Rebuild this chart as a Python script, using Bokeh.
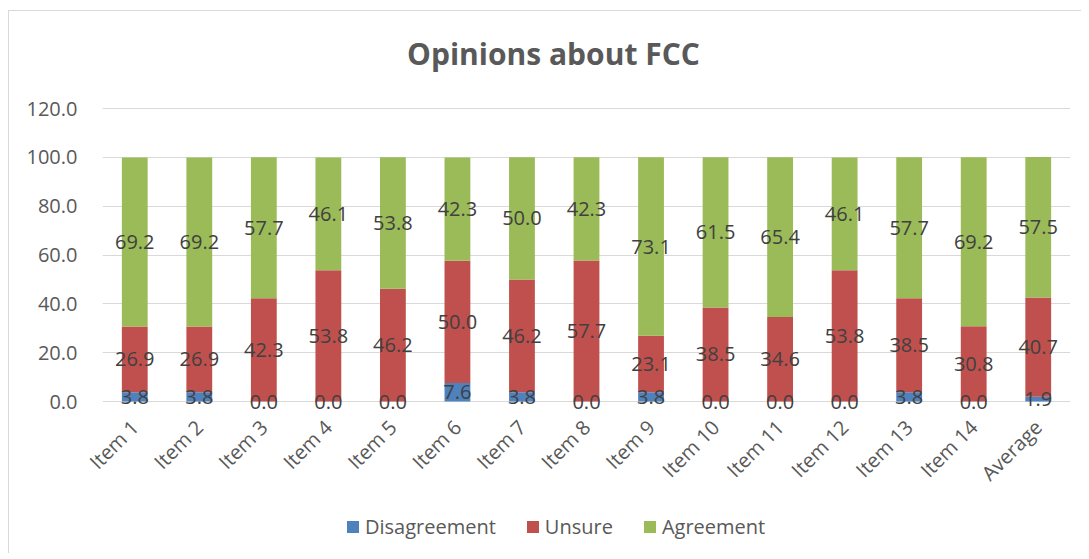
from bokeh.plotting import figure
from bokeh.layouts import column
from bokeh.models import (ColumnDataSource, FactorRange, Range1d, FixedTicker, LabelSet,
                          Label, Legend, LegendItem, PrintfTickFormatter)
from bokeh.core.properties import value
from bokeh.embed import file_html
from bokeh.resources import INLINE
import math

# ---- data ----
items = ["Item 1", "Item 2", "Item 3", "Item 4", "Item 5", "Item 6", "Item 7", "Item 8",
         "Item 9", "Item 10", "Item 11", "Item 12", "Item 13", "Item 14", "Average"]
disagreement = [3.8, 3.8, 0.0, 0.0, 0.0, 7.6, 3.8, 0.0, 3.8, 0.0, 0.0, 0.0, 3.8, 0.0, 1.9]
unsure = [26.9, 26.9, 42.3, 53.8, 46.2, 50.0, 46.2, 57.7, 23.1, 38.5, 34.6, 53.8, 38.5, 30.8, 40.7]
agreement = [69.2, 69.2, 57.7, 46.1, 53.8, 42.3, 50.0, 42.3, 73.1, 61.5, 65.4, 46.1, 57.7, 69.2, 57.5]
series = ["Disagreement", "Unsure", "Agreement"]
colors = ["#4F81BD", "#C0504D", "#9BBB59"]
y_ticks = [0, 20, 40, 60, 80, 100, 120]
title_text = "Opinions about FCC"

FONT = "Open Sans"
TXT = "#595959"

# ---- layout (pixels) ----
W = 1072
H1 = 492                              # main chart height
H2 = 50                               # legend strip height
PX_PER_UNIT = 293.0 / 120.0           # vertical scale of the value axis
ZERO_Y = 390                          # y of value 0 measured from figure top
FRAME_BOTTOM = 402                    # frame bottom measured from figure top
y_top = ZERO_Y / PX_PER_UNIT
y_bot = -(FRAME_BOTTOM - ZERO_Y) / PX_PER_UNIT

src = ColumnDataSource(dict(items=items, Disagreement=disagreement, Unsure=unsure, Agreement=agreement))

p = figure(x_range=FactorRange(*items, range_padding=0), y_range=Range1d(y_bot, y_top),
           width=W, height=H1, output_backend="svg", toolbar_location=None,
           min_border_left=93, min_border_right=11, min_border_top=0,
           min_border_bottom=H1 - FRAME_BOTTOM)
p.outline_line_color = None

renderers = p.vbar_stack(series, x="items", width=0.4, color=colors, line_color=None, source=src)

# data labels centred in each segment
lx, ly, lt = [], [], []
for i, it in enumerate(items):
    base = 0.0
    for vals in (disagreement, unsure, agreement):
        v = vals[i]
        lx.append(it)
        ly.append(base + v / 2.0)
        lt.append("%.1f" % v)
        base += v
lsrc = ColumnDataSource(dict(x=lx, y=ly, t=lt))
p.add_layout(LabelSet(x="x", y="y", text="t", source=lsrc, text_align="center",
                      text_baseline="middle", text_font=value(FONT), text_font_size=value("20px"),
                      text_color="#404040"))

# axes
p.yaxis.ticker = FixedTicker(ticks=y_ticks)
p.yaxis.formatter = PrintfTickFormatter(format="%.1f")
for ax in (p.xaxis, p.yaxis):
    ax.axis_line_color = None
    ax.major_tick_line_color = None
    ax.minor_tick_line_color = None
    ax.major_label_text_font = FONT
    ax.major_label_text_font_size = "20px"
    ax.major_label_text_color = TXT
p.yaxis.major_label_standoff = 19
p.xaxis.major_label_standoff = 4
p.xaxis.major_label_orientation = math.pi / 4

p.xgrid.grid_line_color = None
p.ygrid.grid_line_color = "#D9D9D9"
p.ygrid.ticker = FixedTicker(ticks=y_ticks)

# title
p.add_layout(Label(x=7.5, y=(ZERO_Y - 42) / PX_PER_UNIT, x_offset=-33, text=title_text,
                   text_align="center", text_baseline="middle", text_font=FONT,
                   text_font_size="30px", text_font_style="bold", text_color=TXT))

# legend strip (legend keys use zero-height bars that draw nothing themselves)
p2 = figure(width=W, height=H2, output_backend="svg", toolbar_location=None,
            x_axis_type=None, y_axis_type=None, min_border_left=93, min_border_right=11,
            min_border_top=0, min_border_bottom=0)
p2.outline_line_color = None
p2.xgrid.grid_line_color = None
p2.ygrid.grid_line_color = None
ksrc = ColumnDataSource(dict(x=[0.0], top=[0.0]))
keys = [p2.vbar(x="x", top="top", width=0.4, color=c, line_color=None, source=ksrc) for c in colors]
legend = Legend(items=[LegendItem(label=s, renderers=[r]) for s, r in zip(series, keys)],
                orientation="horizontal", location=(243, 13), border_line_color=None,
                background_fill_alpha=0, padding=0, margin=0, spacing=29, label_standoff=5,
                glyph_width=15, glyph_height=15, label_text_font=FONT,
                label_text_font_size="20px", label_text_color=TXT)
p2.add_layout(legend)

layout = column(p, p2, spacing=0)
layout.styles = {"margin-left": "8px", "margin-top": "10px",
                 "border-top": "1px solid #D9D9D9", "border-left": "1px solid #D9D9D9"}

open("out.html", "w").write(file_html(layout, INLINE))
